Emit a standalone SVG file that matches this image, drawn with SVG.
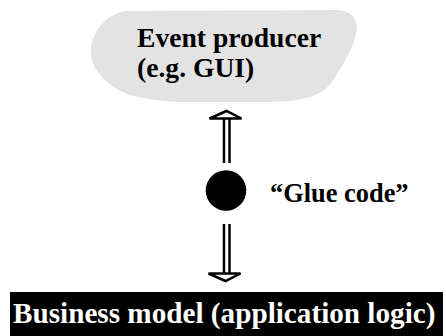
<svg xmlns="http://www.w3.org/2000/svg" width="446" height="336" viewBox="0 0 446 336">
  <style>
    .label { font-family: "Liberation Serif", "Times New Roman", serif; font-weight: bold; }
    .shaft { stroke: #000; stroke-width: 2.5; fill: none; }
    .head { stroke: #000; stroke-width: 2.5; fill: #fff; stroke-linejoin: miter; }
  </style>
  <rect width="446" height="336" fill="#fff"/>

  <g id="event-producer">
    <path d="M 91 46 C 95 30 104 16 125 11 L 338 10 C 350 11 357 17 357 28 C 355 45 345 62 332 82 C 320 98 300 101 270 102 L 180 102 C 150 101 125 96 112 86 C 98 76 89 62 91 46 Z" fill="#e3e3e3"/>
    <text class="label" x="137" y="47" font-size="27.6">Event producer</text>
    <text class="label" x="137" y="77" font-size="27.6">(e.g. GUI)</text>
  </g>

  <g id="glue-code">
    <circle cx="226" cy="190.5" r="20.3" fill="#000"/>
    <text class="label" x="270" y="202" font-size="26.4">“Glue code”</text>
  </g>

  <g id="business-model">
    <rect x="10" y="292" width="433" height="44" fill="#000"/>
    <text class="label" x="13" y="323" font-size="29.2" fill="#fff">Business model (application logic)</text>
  </g>

  <g id="connectors">
    <!-- upward double arrow to the event producer -->
    <line class="shaft" x1="224" y1="119" x2="224" y2="163"/>
    <line class="shaft" x1="229.5" y1="119" x2="229.5" y2="163"/>
    <polygon class="head" points="209.5,118.5 241.5,118.5 226.5,111"/>
    <!-- downward double arrow to the business model -->
    <line class="shaft" x1="224" y1="224" x2="224" y2="273"/>
    <line class="shaft" x1="229.5" y1="224" x2="229.5" y2="273"/>
    <polygon class="head" points="208.5,273.5 240.5,273.5 225.5,281"/>
  </g>
</svg>
